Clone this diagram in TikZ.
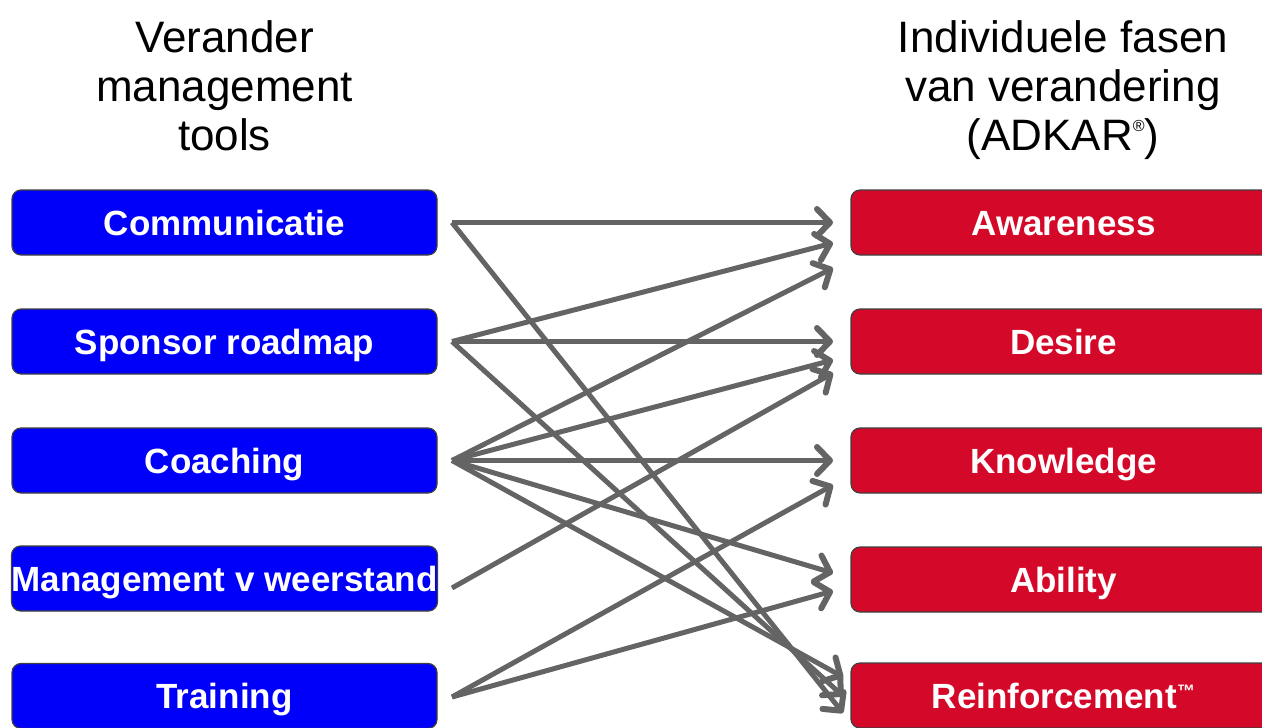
\documentclass[tikz,border=0pt]{standalone}
\usepackage{fontspec}
\setmainfont{Liberation Sans}
\usetikzlibrary{arrows.meta}
\definecolor{toolblue}{RGB}{0,0,250}
\definecolor{adkarred}{RGB}{212,8,40}
\definecolor{arrowgray}{RGB}{100,100,100}
\begin{document}
\begin{tikzpicture}[x=1pt,y=-1pt,
  boxbase/.style={draw=black!75, line width=1.2pt, rounded corners=9pt,
    minimum width=425pt, minimum height=65pt, inner sep=0pt, text=white,
    font=\fontsize{35}{35}\selectfont\bfseries, text height=25pt, text depth=0pt},
  tool/.style={boxbase, fill=toolblue},
  phase/.style={boxbase, fill=adkarred},
  heading/.style={align=center, font=\fontsize{44}{49}\selectfont, anchor=north, inner sep=0pt},
  conn/.style={draw=arrowgray, line width=5pt, -{Straight Barb[length=13pt,width=27pt,line width=6pt,round]}}
]
\clip (0,0) rectangle (1262,728);
\fill[white] (0,0) rectangle (1262,728);

% headings
\node[heading] (hleft) at (224.5,20) {Verander\\management\\tools};
\node[heading] (hright) at (1063,20) {Individuele fasen\\van verandering\\(ADKAR\raisebox{19pt}{\fontsize{16}{16}\selectfont ®})};

% left boxes
\node[tool] (comm)  at (224.5,222.5) {Communicatie};
\node[tool] (spon)  at (224.5,341.5) {Sponsor roadmap};
\node[tool] (coach) at (224.5,460.5) {Coaching};
\node[tool] (mgmt)  at (224.5,578.5) {Management v weerstand};
\node[tool] (train) at (224.5,696)   {Training};

% right boxes
\node[phase] (aw) at (1063.5,222.5) {Awareness};
\node[phase] (de) at (1063.5,341.5) {Desire};
\node[phase] (kn) at (1063.5,460.5) {Knowledge};
\node[phase] (ab) at (1063.5,579.5) {Ability};
\node[phase] (re) at (1063.5,695.5) {Reinforcement\raisebox{11pt}{\fontsize{18}{18}\selectfont\bfseries ™}};

% connector start points
\coordinate (comm-o)  at (452,222.5);
\coordinate (spon-o)  at (452,341.5);
\coordinate (coach-o) at (452,460.5);
\coordinate (mgmt-o)  at (452,588);
\coordinate (train-o) at (452,697);

% connector end points
\coordinate (aw-1) at (833,222.5);
\coordinate (aw-2) at (833,243);
\coordinate (aw-3) at (833,268);
\coordinate (de-1) at (833,341.5);
\coordinate (de-2) at (833,360);
\coordinate (de-3) at (833,373);
\coordinate (kn-1) at (833,460.5);
\coordinate (kn-2) at (833,485);
\coordinate (ab-1) at (833,573);
\coordinate (ab-2) at (833,591);
\coordinate (re-1) at (843,677);
\coordinate (re-2) at (843,696);
\coordinate (re-3) at (843,713);

% connectors
\draw[conn] (comm-o) -- (aw-1);
\draw[conn] (comm-o) -- (re-3);
\draw[conn] (spon-o) -- (aw-2);
\draw[conn] (spon-o) -- (de-1);
\draw[conn] (spon-o) -- (re-2);
\draw[conn] (coach-o) -- (aw-3);
\draw[conn] (coach-o) -- (de-2);
\draw[conn] (coach-o) -- (kn-1);
\draw[conn] (coach-o) -- (ab-1);
\draw[conn] (coach-o) -- (re-1);
\draw[conn] (mgmt-o) -- (de-3);
\draw[conn] (train-o) -- (kn-2);
\draw[conn] (train-o) -- (ab-2);
\end{tikzpicture}
\end{document}
